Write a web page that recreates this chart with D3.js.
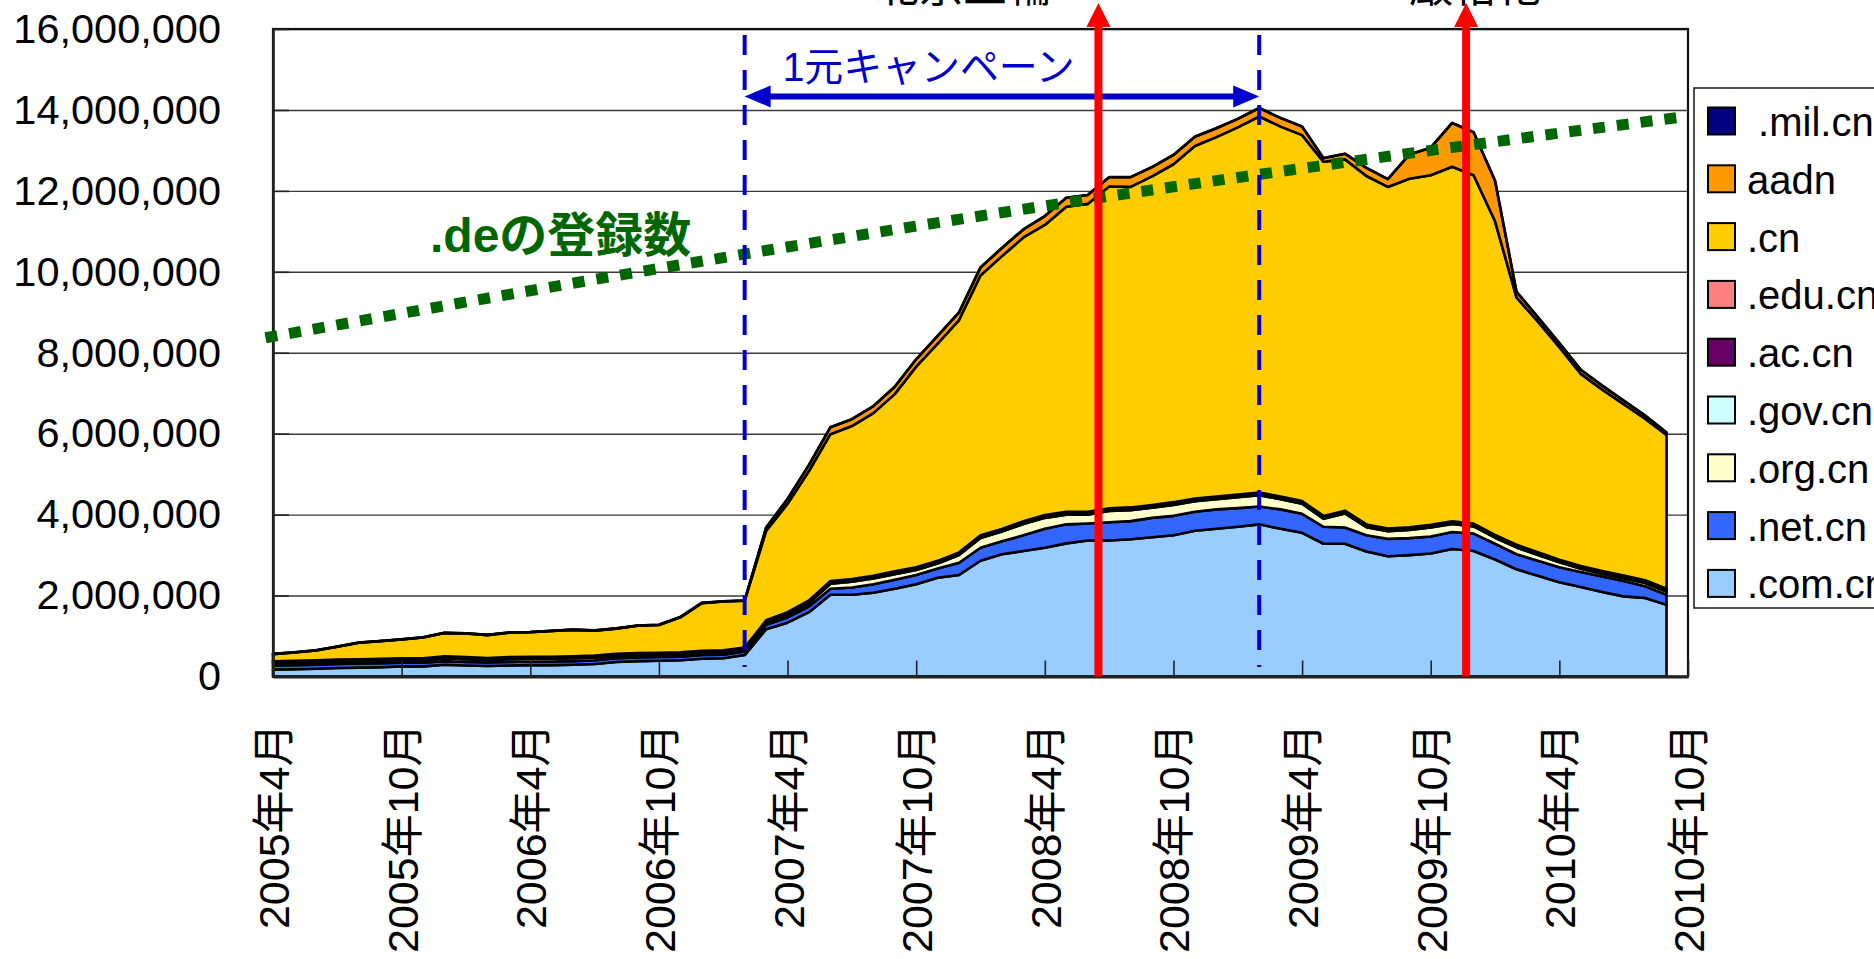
<!DOCTYPE html>
<html>
<head>
<meta charset="utf-8">
<script src="https://cdn.jsdelivr.net/npm/d3@7"></script>
<style>
  html, body { margin: 0; padding: 0; background: #fff; }
  svg { display: block; }
  text { font-family: "Liberation Sans", Arial, "Noto Sans CJK JP", sans-serif; }
</style>
</head>
<body>
<div id="chart"></div>
<script>
// Registered domains per month, in thousands. First month is 2005年4月.
const UNIT = 1000;

const months = [
  '2005-04','2005-05','2005-06','2005-07','2005-08','2005-09','2005-10','2005-11','2005-12',
  '2006-01','2006-02','2006-03','2006-04','2006-05','2006-06','2006-07','2006-08','2006-09','2006-10','2006-11','2006-12',
  '2007-01','2007-02','2007-03','2007-04','2007-05','2007-06','2007-07','2007-08','2007-09','2007-10','2007-11','2007-12',
  '2008-01','2008-02','2008-03','2008-04','2008-05','2008-06','2008-07','2008-08','2008-09','2008-10','2008-11','2008-12',
  '2009-01','2009-02','2009-03','2009-04','2009-05','2009-06','2009-07','2009-08','2009-09','2009-10','2009-11','2009-12',
  '2010-01','2010-02','2010-03','2010-04','2010-05','2010-06','2010-07','2010-08','2010-09'
];

const comCn = [170,180,190,210,220,230,250,250,290,270, 260,270,280,280,290,310,360,380,390,400,
  440,450,530,1170,1330,1590,2020,2020,2070,2170, 2280,2440,2510,2860,3020,3100,3180,3290,3360,3360,
  3390,3440,3490,3600,3650,3700,3760,3650,3550,3280, 3280,3090,2970,3000,3040,3150,3100,2890,2650,2490,
  2330,2210,2090,1980,1940,1770];
const netCn = [100,100,100,100,100,100,90,90,90,90, 90,90,90,90,90,90,90,90,90,90,
  90,90,90,110,130,140,150,180,210,220, 230,230,300,320,320,390,470,470,420,450,
  450,480,480,470,480,460,440,480,470,420, 400,400,430,420,420,420,430,390,370,370,
  370,370,380,380,290,250];
const orgCn = [60,60,60,60,60,60,60,60,70,70, 60,70,70,70,70,70,60,60,60,60,
  60,60,50,40,60,80,120,140,140,140, 120,120,190,240,240,280,270,240,220,280,
  270,250,270,260,250,270,280,250,250,200, 350,200,190,200,220,200,180,150,170,140,
  120,80,70,70,80,80];
const govCn = [30,30,30,30,30,30,30,30,30,30, 30,30,30,30,30,30,30,30,30,30,
  30,30,30,50,50,50,50,50,50,50, 50,50,50,50,50,50,50,50,50,50,
  50,50,50,50,50,50,50,50,50,50, 50,50,50,50,50,50,50,50,50,50,
  50,50,50,50,50,50];
const acCn = [12,12,12,12,12,12,12,12,12,12, 12,12,12,12,12,12,12,12,12,12,
  12,12,12,12,12,12,12,12,12,12, 12,12,12,12,12,12,12,12,12,12,
  12,12,12,12,12,12,12,12,12,12, 12,12,12,12,12,12,12,12,12,12,
  12,12,12,12,12,12];
const eduCn = [6,6,6,6,6,6,6,6,6,6, 6,6,6,6,6,6,6,6,6,6,
  6,6,6,6,6,6,6,6,6,6, 6,6,6,6,6,6,6,6,6,6,
  6,6,6,6,6,6,6,6,6,6, 6,6,6,6,6,6,6,6,6,6,
  6,6,6,6,6,6];
const cn = [175,205,245,315,405,435,465,515,575,585, 565,605,605,635,655,615,625,675,685,865,
  1175,1205,1155,2210,2680,3200,3630,3780,4020,4380, 4960,5370,5740,6420,6740,7010,7170,7540,7610,7950,
  7920,8120,8350,8710,8880,9070,9290,9140,9040,8750, 8680,8610,8440,8610,8640,8760,8610,7750,6110,5700,
  5250,4750,4480,4230,3990,3800];
const aadn = [5,5,5,5,5,5,5,5,5,5, 5,5,5,5,5,5,5,5,5,5,
  5,5,5,80,120,150,170,170,170,180, 180,190,190,200,200,200,220,220,220,230,
  240,230,230,230,220,210,210,210,210,90, 140,200,190,600,680,1080,1060,1000,140,110,
  100,100,100,90,80,60];
const milCn = [1,1,1,1,1,1,1,1,1,1, 1,1,1,1,1,1,1,1,1,1,
  1,1,1,1,1,1,1,1,1,1, 1,1,1,1,1,1,1,1,1,1,
  1,1,1,1,1,1,1,1,1,1, 1,1,1,1,1,1,1,1,1,1,
  1,1,1,1,1,1];

// stacking order, bottom first
const seriesKeys = ['com', 'net', 'org', 'gov', 'ac', 'edu', 'cn', 'aadn', 'mil'];
const seriesNames = ['.com.cn', '.net.cn', '.org.cn', '.gov.cn', '.ac.cn', '.edu.cn', '.cn', 'aadn', ' .mil.cn'];
const seriesColors = ['#99ccff', '#3366ff', '#ffffcc', '#ccffff', '#660066', '#ff8080', '#ffcc00', '#ff9900', '#000080'];

const xTickLabels = ['2005年4月','2005年10月','2006年4月','2006年10月','2007年4月','2007年10月',
  '2008年4月','2008年10月','2009年4月','2009年10月','2010年4月','2010年10月'];
const yTicks = [0, 2000000, 4000000, 6000000, 8000000, 10000000, 12000000, 14000000, 16000000];

// .de registrations drawn as a reference line (month index, count)
const deIdx = [-0.35, 21.9, 35.3, 52.1, 65.9];
const deVal = [8370000, 10430000, 11570000, 12860000, 13840000];
const deLabel = '.deの登録数';

// annotations
const campaignIdx = [22, 46];
const campaignLabel = '1元キャンペーン';
const eventIdx = [38.5, 55.65];
const eventLabels = ['北京五輪', '厳格化'];

const W = 1874, H = 959;
const plot = { left: 273, right: 1688, top: 29, bottom: 676.5 };

const svg = d3.select('#chart').append('svg')
  .attr('width', W).attr('height', H)
  .style('background', '#fff');

const x = d3.scaleLinear().domain([0, 66]).range([plot.left, plot.right]);
const y = d3.scaleLinear().domain([0, 16000000]).range([plot.bottom, plot.top]);

// gridlines
svg.append('g')
  .attr('transform', `translate(${plot.left},0)`)
  .call(d3.axisLeft(y).tickValues(yTicks).tickSize(-(plot.right - plot.left)).tickFormat(''))
  .call(g => g.select('.domain').remove())
  .selectAll('line').attr('stroke', '#3a3a3a').attr('stroke-width', 1.4);

// stacked areas
const table = months.map((m, i) => ({
  com: comCn[i], net: netCn[i], org: orgCn[i], gov: govCn[i], ac: acCn[i],
  edu: eduCn[i], cn: cn[i], aadn: aadn[i], mil: milCn[i]
}));
const stacked = d3.stack().keys(seriesKeys)(table);

const area = d3.area()
  .x((d, i) => x(i))
  .y0(d => y(d[0] * UNIT))
  .y1(d => y(d[1] * UNIT));

svg.append('g').selectAll('path')
  .data(stacked)
  .join('path')
  .attr('d', area)
  .attr('fill', (d, i) => seriesColors[i])
  .attr('stroke', '#000')
  .attr('stroke-width', 2.6)
  .attr('stroke-linejoin', 'round');

// plot frame
svg.append('rect')
  .attr('x', plot.left).attr('y', plot.top)
  .attr('width', plot.right - plot.left).attr('height', plot.bottom - plot.top)
  .attr('fill', 'none').attr('stroke', '#111').attr('stroke-width', 2.2);

// x axis, ticks point inward
const xAxis = svg.append('g')
  .attr('transform', `translate(0,${plot.bottom})`)
  .call(d3.axisBottom(x)
    .tickValues(d3.range(0, 67, 6))
    .tickSizeInner(-16).tickSizeOuter(0)
    .tickFormat((d, i) => xTickLabels[i]));
xAxis.select('.domain').attr('stroke', '#222').attr('stroke-width', 3);
xAxis.selectAll('.tick line').attr('stroke', '#222').attr('stroke-width', 1.6);
xAxis.selectAll('.tick text')
  .attr('font-size', 43)
  .attr('fill', '#000')
  .attr('text-anchor', 'end')
  .attr('transform', 'translate(0,47) rotate(-90)')
  .attr('x', 0).attr('y', 0).attr('dy', '0.36em');

// y axis
const yAxis = svg.append('g')
  .attr('transform', `translate(${plot.left},0)`)
  .call(d3.axisLeft(y)
    .tickValues(yTicks)
    .tickSizeInner(-16).tickSizeOuter(0).tickPadding(52)
    .tickFormat(d3.format(',')));
yAxis.select('.domain').attr('stroke', '#222').attr('stroke-width', 2.6);
yAxis.selectAll('.tick line').attr('stroke', '#222').attr('stroke-width', 1.6);
yAxis.selectAll('.tick text').attr('font-size', 41.5).attr('fill', '#000');

// .de reference line
const deLine = d3.line()
  .x(d => x(d[0]))
  .y(d => y(d[1]))
  .curve(d3.curveMonotoneX);
svg.append('path')
  .datum(deIdx.map((d, i) => [d, deVal[i]]))
  .attr('d', deLine)
  .attr('fill', 'none')
  .attr('stroke', '#006600')
  .attr('stroke-width', 11)
  .attr('stroke-dasharray', '12,12');

svg.append('text')
  .attr('x', 430).attr('y', 252)
  .attr('font-size', 48).attr('font-weight', 'bold')
  .attr('fill', '#006600')
  .text(deLabel);

// campaign period
const blue = '#0000cc';
svg.append('g').selectAll('line')
  .data(campaignIdx)
  .join('line')
  .attr('x1', d => x(d)).attr('x2', d => x(d))
  .attr('y1', 35).attr('y2', 667)
  .attr('stroke', blue).attr('stroke-width', 4)
  .attr('stroke-dasharray', '20,15');

const arrowY = 96.5;
const xa = x(campaignIdx[0]), xb = x(campaignIdx[1]);
svg.append('line')
  .attr('x1', xa + 20).attr('x2', xb - 20)
  .attr('y1', arrowY).attr('y2', arrowY)
  .attr('stroke', blue).attr('stroke-width', 6);
svg.append('path')
  .attr('d', `M${xa},${arrowY} L${xa + 26},${arrowY - 11} L${xa + 26},${arrowY + 11} Z`)
  .attr('fill', blue);
svg.append('path')
  .attr('d', `M${xb},${arrowY} L${xb - 26},${arrowY - 11} L${xb - 26},${arrowY + 11} Z`)
  .attr('fill', blue);
svg.append('text')
  .attr('x', xa + 38).attr('y', 81)
  .attr('font-size', 40)
  .attr('fill', blue)
  .attr('textLength', 292)
  .attr('lengthAdjust', 'spacingAndGlyphs')
  .text(campaignLabel);

// events
const red = '#ff0000';
eventIdx.forEach(d => {
  const ex = x(d);
  svg.append('line')
    .attr('x1', ex).attr('x2', ex)
    .attr('y1', plot.bottom).attr('y2', 24)
    .attr('stroke', red).attr('stroke-width', 8);
  svg.append('path')
    .attr('d', `M${ex},3 L${ex - 12},27 L${ex + 12},27 Z`)
    .attr('fill', red);
});
svg.append('text')
  .attr('x', 963).attr('y', 2)
  .attr('font-size', 44)
  .attr('text-anchor', 'middle')
  .text(eventLabels[0]);
svg.append('text')
  .attr('x', 1475).attr('y', 2)
  .attr('font-size', 44)
  .attr('text-anchor', 'middle')
  .text(eventLabels[1]);

// legend, top entry first
const legend = svg.append('g').attr('transform', 'translate(1694,88)');
legend.append('rect')
  .attr('width', 240).attr('height', 520)
  .attr('fill', '#fff').attr('stroke', '#222').attr('stroke-width', 1.6);
const legendRows = seriesKeys.map((k, i) => ({ name: seriesNames[i], color: seriesColors[i] })).reverse();
const item = legend.selectAll('g.item')
  .data(legendRows)
  .join('g')
  .attr('class', 'item')
  .attr('transform', (d, i) => `translate(0,${33 + i * 57.8})`);
item.append('rect')
  .attr('x', 14).attr('y', -13.5)
  .attr('width', 27).attr('height', 27)
  .attr('fill', d => d.color)
  .attr('stroke', '#000').attr('stroke-width', 2);
item.append('text')
  .attr('x', 53).attr('y', 15)
  .attr('font-size', 40)
  .style('white-space', 'pre')
  .text(d => d.name);
</script>
</body>
</html>
